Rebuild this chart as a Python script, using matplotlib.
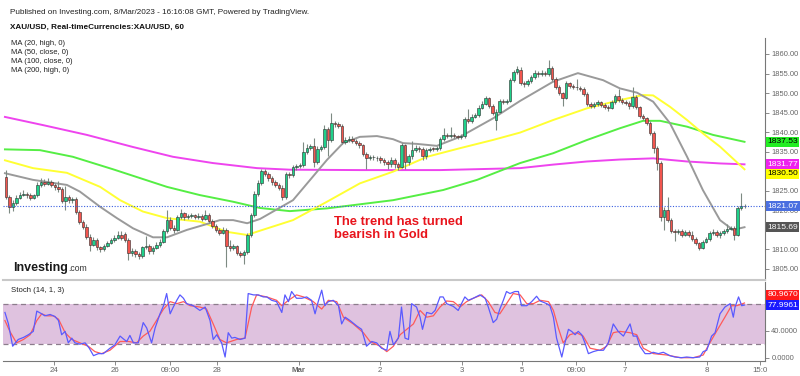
import numpy as np
import matplotlib
matplotlib.use('Agg')
import matplotlib.pyplot as plt
from matplotlib import transforms

plt.rcParams['font.family'] = ['Liberation Sans', 'DejaVu Sans']

# hourly XAU/USD candles
opens = [
    1828.5, 1823.5, 1820.8, 1821.8, 1823.2, 1824.0, 1824.3, 1823.9, 1823.2, 1823.8,
    1826.6, 1827.2, 1826.8, 1827.3, 1826.5, 1825.9, 1825.4, 1822.5, 1823.3, 1822.6,
    1822.9, 1819.5, 1817.0, 1815.8, 1813.3, 1811.2, 1812.4, 1810.6, 1810.0, 1811.0,
    1811.6, 1812.3, 1813.0, 1813.8, 1814.0, 1812.4, 1809.2, 1809.6, 1808.8, 1808.3,
    1810.6, 1811.0, 1809.5, 1810.4, 1811.2, 1812.0, 1814.6, 1817.6, 1815.6, 1815.0,
    1818.3, 1819.2, 1818.2, 1818.5, 1818.7, 1818.2, 1818.6, 1817.9, 1818.9, 1817.3,
    1816.0, 1815.0, 1814.3, 1815.0, 1810.8, 1810.3, 1810.8, 1809.2, 1808.7, 1809.3,
    1813.7, 1818.8, 1824.2, 1827.0, 1830.0, 1829.3, 1828.2, 1827.2, 1826.5, 1825.8,
    1823.5, 1829.2, 1829.0, 1831.0, 1831.3, 1831.6, 1835.0, 1836.0, 1836.4, 1832.3,
    1835.8, 1836.2, 1840.8, 1838.0, 1842.3, 1842.0, 1841.7, 1837.6, 1838.0, 1838.3,
    1837.8, 1837.2, 1836.6, 1834.5, 1833.4, 1833.6, 1833.5, 1833.3, 1832.9, 1832.4,
    1831.8, 1833.0, 1831.9, 1831.2, 1836.6, 1832.3, 1833.8, 1835.4, 1836.0, 1835.6,
    1833.8, 1835.4, 1835.7, 1835.6, 1835.9, 1838.2, 1839.3, 1839.0, 1839.3, 1839.0,
    1838.7, 1839.0, 1843.4, 1842.8, 1844.0, 1844.4, 1846.3, 1847.3, 1848.7, 1846.8,
    1843.0, 1845.2, 1848.0, 1847.6, 1848.0, 1853.3, 1855.4, 1855.8, 1852.6, 1852.2,
    1853.0, 1854.0, 1855.2, 1854.8, 1855.2, 1854.8, 1856.4, 1853.6, 1851.6, 1850.0,
    1848.8, 1852.5, 1851.9, 1851.5, 1851.4, 1851.1, 1849.8, 1847.2, 1846.8, 1847.2,
    1847.6, 1847.0, 1846.5, 1846.2, 1847.7, 1849.2, 1848.2, 1847.8, 1847.5, 1846.6,
    1849.0, 1846.4, 1844.2, 1843.5, 1842.3, 1839.8, 1836.0, 1832.2, 1818.3, 1820.2,
    1817.6, 1814.8, 1814.4, 1814.8, 1813.8, 1814.4, 1813.8, 1812.7, 1811.6, 1810.4,
    1812.0, 1812.6, 1814.2, 1814.4, 1813.6, 1814.1, 1814.6, 1815.3, 1815.6, 1813.8,
    1820.6, 1821.0]
closes = [
    1823.5, 1820.8, 1821.8, 1823.2, 1824.0, 1824.3, 1823.9, 1823.2, 1823.8, 1826.6,
    1827.2, 1826.8, 1827.3, 1826.5, 1825.9, 1825.4, 1822.5, 1823.3, 1822.6, 1822.9,
    1819.5, 1817.0, 1815.8, 1813.3, 1811.2, 1812.4, 1810.6, 1810.0, 1811.0, 1811.6,
    1812.3, 1813.0, 1813.8, 1813.0, 1812.4, 1809.2, 1809.6, 1808.8, 1808.3, 1810.6,
    1811.0, 1809.5, 1810.4, 1811.2, 1812.0, 1814.6, 1817.6, 1815.6, 1815.0, 1818.3,
    1819.2, 1818.2, 1818.5, 1818.7, 1818.2, 1818.6, 1817.9, 1818.9, 1817.3, 1816.0,
    1815.0, 1814.3, 1815.0, 1810.8, 1810.3, 1810.8, 1809.2, 1808.7, 1809.3, 1813.7,
    1818.8, 1824.2, 1827.0, 1830.0, 1829.3, 1828.2, 1827.2, 1826.5, 1825.8, 1823.5,
    1829.2, 1829.0, 1831.0, 1831.3, 1831.6, 1835.0, 1836.0, 1836.4, 1832.3, 1835.8,
    1836.2, 1840.8, 1838.0, 1842.3, 1842.0, 1841.7, 1837.6, 1838.0, 1838.3, 1837.8,
    1837.2, 1836.6, 1834.5, 1833.4, 1833.6, 1833.5, 1833.3, 1832.9, 1832.4, 1831.8,
    1833.0, 1831.9, 1831.2, 1836.6, 1832.3, 1833.8, 1835.4, 1836.0, 1835.6, 1833.8,
    1835.4, 1835.7, 1835.6, 1835.9, 1838.2, 1839.3, 1839.0, 1839.3, 1839.0, 1838.7,
    1839.0, 1843.4, 1842.8, 1844.0, 1844.4, 1846.3, 1847.3, 1848.7, 1846.8, 1845.0,
    1845.2, 1848.0, 1847.6, 1848.0, 1853.3, 1855.4, 1856.2, 1852.6, 1852.2, 1853.0,
    1854.0, 1855.2, 1854.8, 1855.2, 1854.8, 1856.4, 1853.6, 1851.6, 1850.0, 1848.8,
    1852.5, 1851.9, 1851.5, 1851.4, 1851.1, 1849.8, 1847.2, 1846.8, 1847.2, 1847.6,
    1847.0, 1846.5, 1846.2, 1847.7, 1849.2, 1848.2, 1847.8, 1847.5, 1846.6, 1849.0,
    1846.4, 1844.2, 1843.5, 1842.3, 1839.8, 1836.0, 1832.2, 1818.3, 1820.2, 1817.6,
    1814.8, 1814.4, 1814.8, 1813.8, 1814.4, 1813.8, 1812.7, 1811.6, 1810.4, 1812.0,
    1812.6, 1814.2, 1814.4, 1813.6, 1814.1, 1814.6, 1815.3, 1815.6, 1813.8, 1820.6,
    1821.0, 1821.07]
highs = [
    1830.3, 1824.0, 1822.6, 1823.8, 1824.7, 1825.3, 1824.8, 1824.4, 1824.3, 1827.2,
    1828.3, 1828.0, 1828.4, 1827.8, 1827.0, 1827.6, 1825.9, 1826.2, 1823.9, 1823.5,
    1823.4, 1820.0, 1817.6, 1816.4, 1813.9, 1813.2, 1812.9, 1811.0, 1811.4, 1812.2,
    1812.8, 1813.6, 1814.8, 1814.6, 1814.4, 1812.8, 1810.4, 1810.0, 1809.4, 1811.0,
    1813.5, 1811.4, 1810.8, 1811.8, 1812.6, 1815.2, 1820.0, 1818.2, 1816.2, 1818.9,
    1820.3, 1819.7, 1819.0, 1819.2, 1819.1, 1819.4, 1819.0, 1820.2, 1819.4, 1817.7,
    1816.5, 1815.6, 1815.7, 1815.4, 1812.5, 1811.4, 1811.2, 1809.7, 1809.9, 1814.3,
    1819.4, 1824.9, 1827.8, 1830.7, 1830.6, 1829.8, 1828.8, 1827.7, 1827.0, 1826.4,
    1829.8, 1829.9, 1831.6, 1831.9, 1832.2, 1837.4, 1836.9, 1837.0, 1838.5, 1836.5,
    1836.8, 1841.8, 1841.3, 1845.0, 1842.9, 1842.6, 1842.1, 1838.8, 1839.0, 1838.9,
    1838.3, 1837.7, 1837.0, 1835.0, 1834.2, 1834.1, 1834.0, 1833.8, 1833.4, 1832.8,
    1833.6, 1833.5, 1832.4, 1837.2, 1837.0, 1834.3, 1837.8, 1836.6, 1836.5, 1836.1,
    1836.0, 1836.3, 1836.2, 1836.4, 1838.8, 1841.0, 1839.8, 1841.3, 1839.8, 1839.4,
    1839.6, 1844.0, 1845.8, 1844.6, 1845.0, 1846.9, 1847.9, 1849.3, 1849.0, 1847.2,
    1845.8, 1848.6, 1848.5, 1848.6, 1853.9, 1856.0, 1856.8, 1856.6, 1853.0, 1853.5,
    1854.6, 1855.8, 1855.7, 1855.8, 1855.6, 1858.5, 1856.9, 1854.0, 1852.0, 1850.4,
    1853.0, 1852.9, 1852.3, 1853.6, 1851.9, 1851.5, 1850.2, 1847.7, 1847.8, 1848.2,
    1848.0, 1847.4, 1847.0, 1848.3, 1849.8, 1851.0, 1848.7, 1848.3, 1848.0, 1851.6,
    1849.5, 1846.8, 1844.7, 1844.0, 1842.8, 1840.3, 1836.4, 1832.6, 1820.8, 1823.4,
    1818.0, 1815.3, 1815.3, 1815.2, 1815.0, 1814.9, 1814.6, 1813.2, 1812.0, 1812.5,
    1813.1, 1814.8, 1815.3, 1814.9, 1814.6, 1815.1, 1816.4, 1816.1, 1816.0, 1821.2,
    1824.4, 1821.6]
lows = [
    1822.9, 1819.3, 1819.9, 1821.3, 1822.8, 1823.6, 1823.2, 1822.7, 1822.8, 1823.5,
    1826.0, 1826.3, 1826.4, 1825.9, 1825.2, 1824.8, 1821.8, 1820.0, 1822.0, 1822.0,
    1819.0, 1816.5, 1815.2, 1812.6, 1809.6, 1810.8, 1809.8, 1809.4, 1809.6, 1810.6,
    1811.3, 1811.9, 1812.6, 1812.4, 1811.8, 1807.3, 1808.4, 1808.0, 1807.6, 1807.9,
    1810.2, 1808.9, 1808.9, 1810.0, 1810.6, 1811.6, 1814.2, 1815.0, 1814.2, 1814.6,
    1817.8, 1817.6, 1817.7, 1818.0, 1817.7, 1817.8, 1817.3, 1817.5, 1816.8, 1815.4,
    1814.4, 1813.6, 1813.9, 1805.5, 1809.6, 1809.8, 1808.6, 1808.0, 1806.3, 1808.9,
    1813.2, 1818.4, 1823.6, 1826.6, 1828.7, 1827.6, 1826.6, 1825.9, 1825.2, 1822.6,
    1823.0, 1828.4, 1828.6, 1830.4, 1830.9, 1831.2, 1834.5, 1835.5, 1831.0, 1831.9,
    1835.3, 1835.8, 1834.0, 1837.4, 1841.4, 1841.0, 1837.0, 1837.1, 1837.5, 1837.2,
    1836.6, 1836.0, 1833.9, 1830.6, 1832.8, 1832.9, 1832.7, 1832.2, 1831.6, 1830.6,
    1831.2, 1830.8, 1830.4, 1830.8, 1830.6, 1831.7, 1833.2, 1834.9, 1835.0, 1832.9,
    1833.2, 1835.0, 1835.1, 1835.2, 1835.5, 1837.8, 1838.5, 1838.6, 1838.5, 1838.2,
    1838.3, 1838.6, 1842.3, 1842.4, 1843.5, 1843.9, 1845.8, 1846.9, 1846.3, 1844.5,
    1840.6, 1844.8, 1847.1, 1847.2, 1847.6, 1852.9, 1855.0, 1852.1, 1851.6, 1851.8,
    1852.6, 1853.6, 1854.2, 1854.4, 1854.3, 1854.3, 1853.1, 1851.1, 1849.5, 1846.8,
    1848.4, 1851.4, 1851.0, 1850.9, 1850.6, 1849.2, 1846.6, 1846.2, 1846.3, 1846.8,
    1846.5, 1846.0, 1845.4, 1845.8, 1847.3, 1847.8, 1847.3, 1846.9, 1846.0, 1846.2,
    1845.9, 1843.7, 1843.0, 1841.8, 1839.2, 1834.7, 1830.3, 1817.4, 1814.9, 1817.1,
    1814.2, 1812.2, 1813.9, 1813.3, 1813.4, 1813.3, 1812.2, 1811.1, 1809.9, 1810.0,
    1811.6, 1812.2, 1813.8, 1813.1, 1812.8, 1813.7, 1814.2, 1815.0, 1812.4, 1813.4,
    1820.2, 1820.6]

# moving averages, read at points along each line (x = candle index)
ma20_x = [-0.3, 7.7, 17.4, 21.1, 26.9, 31.7, 36.3, 42, 46, 51.7, 57.4, 61.1, 64.9, 68.9,
          72.6, 82, 86.9, 91.7, 96.3, 101.1, 106, 110.6, 113.4, 117.4, 123.1, 129.7,
          139.1, 146.9, 156.3, 163.4, 170.6, 175.4, 180.3, 184.9, 189.7, 194.6, 199.1,
          204, 207.7, 211]
ma20 = [1829.5, 1827.8, 1826.5, 1824.8, 1820.9, 1818.0, 1815.4, 1813.1, 1813.1, 1815.0,
        1816.5, 1817.5, 1817.5, 1816.7, 1817.8, 1822.6, 1827.8, 1832.9, 1837.2, 1838.8,
        1839.0, 1838.2, 1837.2, 1837.0, 1836.5, 1838.8, 1843.5, 1848.0, 1852.9, 1855.1,
        1853.3, 1851.2, 1850.1, 1847.8, 1842.3, 1833.7, 1825.2, 1817.5, 1815.0, 1815.69]
ma50_x = [-0.3, 7.7, 17.4, 26.9, 32.6, 39.1, 46, 55.4, 63.1, 68.9, 72.6, 82, 91.7, 101.1,
          110.6, 120.3, 129.7, 139.1, 146.9, 156.3, 166, 175.4, 182, 184.9, 189.7, 194.6,
          199.1, 204, 211]
ma50 = [1832.8, 1830.8, 1829.6, 1826.0, 1822.6, 1819.7, 1818.0, 1817.1, 1814.5, 1813.7,
        1814.8, 1817.5, 1822.2, 1826.9, 1829.9, 1833.7, 1835.9, 1838.0, 1839.9, 1843.1,
        1846.1, 1848.2, 1849.5, 1849.4, 1846.5, 1843.1, 1839.7, 1836.3, 1830.5]
ma100_x = [-0.3, 9.7, 19.1, 30.6, 46, 55.4, 64.9, 72.6, 81.1, 91.7, 110.6, 124.9, 134.6,
           146.9, 156.3, 166, 175.4, 182, 186.9, 194.6, 202, 211]
ma100 = [1835.6, 1835.4, 1833.7, 1830.5, 1826.0, 1823.9, 1822.2, 1820.6, 1819.8, 1820.5,
         1822.6, 1825.2, 1827.8, 1832.1, 1834.6, 1838.0, 1841.0, 1842.9, 1842.9, 1841.4,
         1839.3, 1837.53]
ma200_x = [-0.3, 10.6, 23.1, 36.3, 47.7, 59.1, 71.7, 81.1, 101.1, 124, 146.9, 156.3, 166,
           175.4, 184.9, 194.6, 204, 211]
ma200 = [1843.9, 1841.8, 1839.3, 1836.2, 1833.7, 1832.1, 1830.8, 1830.4, 1830.3, 1830.3,
         1830.8, 1831.7, 1832.5, 1833.0, 1833.3, 1832.5, 1832.0, 1831.77]

# stochastic (14, 1, 3), read at the turning points of each line
k_x = [-0.3, 0.7, 1.9, 3.5, 5, 6.4, 7.8, 8.8, 10.2, 11.1, 12.6, 14, 15, 15.9, 16.9, 17.8,
       18.8, 19.7, 21.1, 22.6, 23.8, 25, 26.4, 27.8, 29.7, 31.1, 32.6, 33.5, 34.5, 35.4,
       36.4, 37.8, 39.2, 40.2, 41.6, 42.6, 44, 45, 45.9, 46.9, 47.8, 48.8, 49.7, 50.7,
       51.6, 53.5, 55.4, 56.9, 58.3, 59.2, 60.2, 61.6, 62.6, 63.5, 64.5, 65.4, 66.9, 68.3,
       69.2, 70.7, 72.1, 73.5, 74.5, 75.9, 77.3, 78.8, 79.7, 80.7, 81.6, 83, 84.5, 85.9,
       87.3, 88.3, 89.2, 90.2, 91.1, 92.1, 93.5, 95, 95.9, 96.9, 98.3, 100.2, 101.6, 103,
       104.5, 105.9, 107.3, 108.8, 109.7, 110.7, 112.1, 113, 114, 115, 115.9, 117.3, 118.3,
       119, 120.2, 121.6, 122.6, 124, 124.9, 125.9, 127.8, 129.2, 131.1, 132.1, 133.5,
       135.4, 136.9, 137.8, 139.2, 140.2, 141.1, 142.1, 143, 144, 145.4, 146.4, 147.3,
       148.8, 150.2, 151.6, 152.6, 154.5, 155.4, 156.4, 157.3, 158.8, 159.7, 160.7, 161.6,
       162.6, 163.5, 164.5, 165.4, 166.4, 167.8, 169.2, 170.7, 172.1, 173.5, 174.9, 176.4,
       178.3, 179.2, 180.2, 181.1, 182.6, 184, 184.9, 186.4, 187.8, 189.7, 191.1, 193,
       194.5, 196.3, 198.2, 199.2, 200.2, 201.6, 202.6, 204, 205.4, 206.9, 207.8, 208.3,
       209.3, 210.2, 211]
k_val = [67, 50, 17, 27, 30, 34, 39, 69, 65, 62, 64, 61, 55, 34, 39, 22,
         29, 22, 20, 22, 14, 3, 6, 6, 14, 19, 32, 28, 24, 33,
         22, 22, 52, 44, 22, 44, 65, 77, 95, 65, 75, 85, 93, 88,
         80, 77, 70, 75, 55, 27, 34, 22, 1, 37, 29, 30, 27, 29,
         95, 93, 93, 90, 90, 85, 83, 67, 93, 83, 98, 88, 88, 90,
         85, 65, 83, 100, 77, 83, 85, 77, 50, 60, 55, 47, 42, 17,
         24, 22, 14, 11, 39, 19, 29, 75, 29, 27, 80, 75, 60,
         42, 67, 65, 70, 90, 90, 80, 76, 70, 90, 85, 88,
         93, 88, 75, 52, 57, 72, 85, 98, 95, 98, 98, 77,
         77, 83, 91, 84, 80, 77, 60, 29, 1, 22, 42, 39,
         34, 39, 34, 22, 6, 9, 11, 11, 22, 50, 39, 32,
         50, 32, 32, 17, 6, 6, 8, 6, 8, 3, 1, 0,
         1, 0, 1, 9, 11, 32, 37, 65, 75, 80, 60, 75,
         90, 77, 78]
d_x = [-0.3, 1.1, 3, 5, 6.9, 8.8, 10.2, 11.6, 13.5, 15, 16.9, 18.8, 21.1, 23.5, 25.4,
       27.3, 29.7, 32.6, 35, 37.3, 39.2, 41.1, 43, 45, 46.9, 48.8, 50.7, 52.6, 55.4, 57.3,
       59.2, 61.1, 63, 65.9, 68.3, 70.2, 71.6, 74.5, 77.3, 78.8, 80.7, 83, 85, 87.8, 90.2,
       92.1, 94.5, 96.4, 99.2, 102.1, 104, 106.9, 108.8, 110.7, 112.6, 114.5, 116.4, 118.3,
       120.2, 122.1, 124, 125.9, 127.8, 129.7, 131.6, 133.5, 135.9, 137.8, 139.7, 141.1,
       143, 144.9, 146.9, 148.8, 150.7, 152.6, 155, 156.4, 157.8, 159.2, 161.1, 163, 164.9,
       166.9, 169.7, 171.6, 173.5, 175.4, 178.3, 180.2, 182.1, 185, 188.8, 192.6, 196.4,
       199.2, 201.1, 203, 205.4, 207.3, 208.8, 211]
d_val = [55, 39, 22, 27, 34, 55, 65, 62, 62, 57, 37, 27, 22, 17, 9,
         6, 11, 24, 24, 22, 32, 39, 55, 72, 83, 80, 83, 77, 75, 72,
         50, 27, 22, 27, 29, 75, 93, 90, 85, 77, 85, 93, 90, 83, 72,
         85, 83, 60, 50, 37, 24, 17, 9, 17, 34, 42, 50, 70,
         60, 62, 75, 84, 83, 75, 83, 88, 93, 83, 67, 65,
         80, 95, 93, 80, 80, 85, 83, 70, 44, 22, 34, 37, 32,
         14, 11, 17, 37, 39, 37, 34, 14, 6, 4, 0, 0,
         4, 22, 39, 60, 77, 77, 81]

tick_pos = [13.7, 31.1, 46.9, 60.3, 83.7, 106.9, 130.3, 147.4, 162.9, 176.9, 200.3, 215.4]
tick_labels = ['24', '26', '09:00', '28', 'Mar', '2', '3', '5', '09:00', '7', '8', '15:0']
price_ticks = [1805, 1810, 1815, 1820, 1825, 1830, 1835, 1840, 1845, 1850, 1855, 1860]
hidden_ticks = [1815, 1830]  # labels fully covered by price tags in the original
last_price = 1821.07

W, H = 800, 376


def px_box(x0, y0, x1, y1):
    # axes rectangle from pixel corners (origin top-left)
    return [x0 / W, 1 - y1 / H, (x1 - x0) / W, (y1 - y0) / H]


fig = plt.figure(figsize=(W / 100, H / 100), dpi=100)
ax = fig.add_axes(px_box(3, 38, 765, 280))
st = fig.add_axes(px_box(3, 282, 765, 361))

x = np.arange(len(closes))
o = np.array(opens)
c = np.array(closes)
up = c >= o

# candles
ax.vlines(x, lows, highs, color='#7d8a82', lw=0.8, zorder=2)
body_h = np.where(np.abs(c - o) < 0.15, 0.15, c - o)
ax.bar(x, body_h, bottom=o, width=0.72,
       color=np.where(up, '#1fd18a', '#f2554e'), edgecolor='#2b2b2b', linewidth=0.4, zorder=3)

# moving averages
ax.plot(ma200_x, ma200, color='#ee44ee', lw=1.4, zorder=1)
ax.plot(ma100_x, ma100, color='#55ee44', lw=1.4, zorder=1)
ax.plot(ma50_x, ma50, color='#ffff33', lw=1.4, zorder=1)
ax.plot(ma20_x, ma20, color='#9a9a9a', lw=1.4, zorder=1)

ax.axhline(last_price, color='#3a5fe0', lw=0.8, ls=(0, (1, 1.5)), zorder=4)

ax.set_xlim(-0.857, 216.857)
ax.set_ylim(1802.18, 1864.09)
st.set_xlim(-0.857, 216.857)
st.set_ylim(-4.9, 112.1)

for a in (ax, st):
    for s in ('top', 'left'):
        a.spines[s].set_visible(False)
    a.spines['right'].set_color('#777777')
    a.spines['right'].set_linewidth(0.8)
    a.yaxis.tick_right()
    a.tick_params(axis='y', length=3, width=0.6, color='#777777', labelsize=5.4,
                  labelcolor='#666666', pad=1.5)
ax.spines['bottom'].set_color('#c8c8c8')
ax.spines['bottom'].set_linewidth(1.5)
st.spines['bottom'].set_color('#777777')
st.spines['bottom'].set_linewidth(0.8)

ax.set_yticks(price_ticks)
ax.set_yticklabels(['' if v in hidden_ticks else f'{v:.2f}' for v in price_ticks])
ax.tick_params(axis='x', bottom=False, labelbottom=False)

# stochastic panel
st.axhspan(20, 80, color='#dfc2df', zorder=0, lw=0)
for lvl in (20, 80):
    st.axhline(lvl, color='#8c7c8c', lw=0.9, ls=(0, (4, 3)), zorder=1)
st.plot(d_x, d_val, color='#ff5a5a', lw=0.9, zorder=2)
st.plot(k_x, k_val, color='#5a5aff', lw=0.9, zorder=3)
st.set_yticks([0, 40])
st.set_yticklabels(['0.0000', '40.0000'])
st.set_xticks(tick_pos)
st.set_xticklabels(tick_labels)
st.tick_params(axis='x', length=3, width=0.6, color='#777777', labelsize=5.7,
               labelcolor='#666666', pad=1.5)
for lab in st.get_xticklabels():
    if lab.get_text() == 'Mar':
        lab.set_fontweight('bold')


def tag(axis, val, text, fc, tc, dy=0):
    tr = transforms.offset_copy(axis.get_yaxis_transform(), fig=fig, y=dy, units='points')
    axis.text(1.003, val, text, transform=tr, ha='left', va='center', fontsize=6.1,
              color=tc, clip_on=False, zorder=10,
              bbox=dict(boxstyle='square,pad=0.17', fc=fc, ec='none'))


tag(ax, 1837.53, '1837.53', '#22ee22', 'black')
tag(ax, 1831.77, '1831.77', '#ee22ee', 'white')
tag(ax, 1830.50, '1830.50', '#ffff00', 'black', dy=-3.3)
tag(ax, last_price, '1821.07', '#4a6fe0', 'white')
tag(ax, 1815.69, '1815.69', '#555555', 'white')
tag(st, 80.967, '80.9670', '#ff1a1a', 'white', dy=5.8)
tag(st, 77.9961, '77.9961', '#1a1aff', 'white')

# header and labels
fig.text(10 / W, 1 - 12 / H, 'Published on Investing.com, 8/Mar/2023 - 16:16:08 GMT, Powered by TradingView.',
         fontsize=5.85, color='#222222', va='center')
fig.text(10 / W, 1 - 27 / H, 'XAU/USD, Real-timeCurrencies:XAU/USD, 60',
         fontsize=5.9, color='#111111', va='center', fontweight='bold')
for k, s in enumerate(['MA (20, high, 0)', 'MA (50, close, 0)', 'MA (100, close, 0)', 'MA (200, high, 0)']):
    fig.text(11 / W, 1 - (43.3 + 9.1 * k) / H, s, fontsize=5.5, color='#222222', va='center')

fig.text(13 / W, 1 - 271 / H, 'Investing', fontsize=9, fontweight='bold', color='#1a1a1a', va='baseline')
fig.text(68 / W, 1 - 271 / H, '.com', fontsize=6.2, color='#333333', va='baseline')
fig.text(11 / W, 1 - 291 / H, 'Stoch (14, 1, 3)', fontsize=5.6, color='#222222', va='center')

fig.text(334 / W, 1 - 225 / H, 'The trend has turned', fontsize=9.4, fontweight='bold',
         color='#e8141c', va='baseline')
fig.text(334 / W, 1 - 238.3 / H, 'bearish in Gold', fontsize=9.4, fontweight='bold',
         color='#e8141c', va='baseline')

fig.savefig('out.png', dpi=100)
